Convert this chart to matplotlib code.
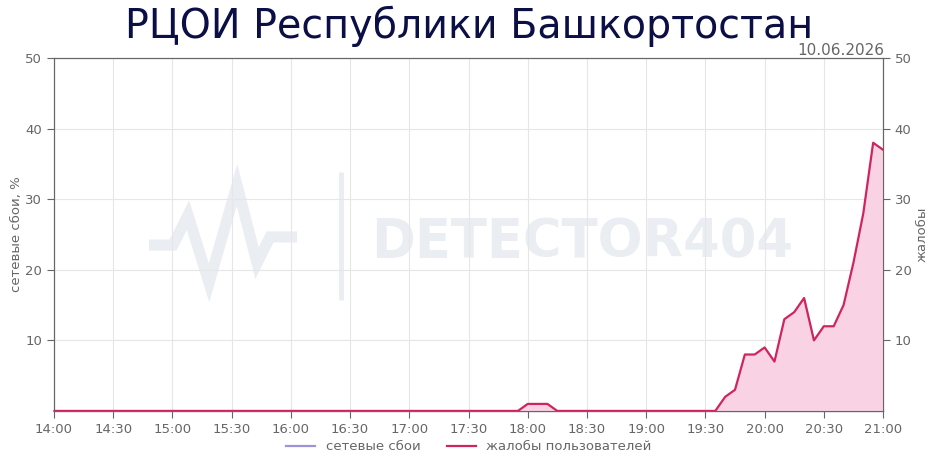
import numpy as np
import matplotlib.pyplot as plt
from datetime import datetime, timedelta

# data: 5-minute steps from 14:00 to 21:00
start = datetime(2026, 6, 10, 14, 0)
times = [start + timedelta(minutes=5 * i) for i in range(85)]

complaints = [0] * 85
# 18:00 .. 18:10
complaints[48:51] = [1, 1, 1]
# 19:35 .. 21:00
late = [0, 2, 3, 8, 8, 9, 7, 13, 14, 16, 10, 12, 12, 15, 21, 28, 38, 37]
complaints[67:85] = late
outages = [0] * 85

tick_labels = ["14:00", "14:30", "15:00", "15:30", "16:00", "16:30", "17:00", "17:30",
               "18:00", "18:30", "19:00", "19:30", "20:00", "20:30", "21:00"]

GRAY = "#666666"
LINE = "#d0245f"
FILL = "#f9d2e3"
PURPLE = "#9d93d8"
WM = "#eaedf1"

fig = plt.figure(figsize=(9.38, 4.69), dpi=100)
ax = fig.add_axes([0.0576, 0.1237, 0.8838, 0.7526])
ax2 = ax.twinx()

# watermark
ax.plot([0.1146, 0.1435, 0.1616, 0.187, 0.2207, 0.2449, 0.2606, 0.2931],
        [0.470, 0.470, 0.555, 0.363, 0.640, 0.419, 0.493, 0.493],
        transform=ax.transAxes, color=WM, lw=8, solid_joinstyle="miter",
        solid_capstyle="butt", zorder=0)
ax.plot([0.346, 0.346], [0.314, 0.677], transform=ax.transAxes, color=WM, lw=3.5,
        solid_capstyle="butt", zorder=0)
ax.text(0.382, 0.48, "DETECTOR404", transform=ax.transAxes, fontsize=38,
        fontweight="bold", color=WM, va="center", ha="left", zorder=0)

ax2.fill_between(times, complaints, 0, color=FILL, zorder=2)
ax2.plot(times, complaints, color=LINE, lw=1.6, zorder=3)
ax.plot(times, outages, color=PURPLE, lw=1.6, zorder=3, clip_on=False)

for a in (ax, ax2):
    a.set_ylim(0, 50)
    a.set_yticks([10, 20, 30, 40, 50])
    a.tick_params(colors=GRAY, labelsize=9.5, length=5)
    for s in a.spines.values():
        s.set_color(GRAY)
        s.set_linewidth(0.8)

ax.set_xlim(times[0], times[-1])
ax.set_xticks([start + timedelta(minutes=30 * i) for i in range(15)])
ax.set_xticklabels(tick_labels)
ax.grid(True, color="#e6e6e6", lw=0.8)
ax.set_axisbelow(True)

ax.set_ylabel("сетевые сбои, %", color=GRAY, fontsize=9.5, labelpad=2)
ax2.set_ylabel("жалобы", color=GRAY, fontsize=9.5, rotation=90, labelpad=3)

fig.text(0.5, 0.944, "РЦОИ Республики Башкортостан", ha="center", va="center",
         fontsize=28.5, color="#0b0f45")
fig.text(0.943, 0.892, "10.06.2026", ha="right", va="center", fontsize=11, color=GRAY)

h1, = ax.plot([], [], color=PURPLE, lw=1.6, label="сетевые сбои")
h2, = ax.plot([], [], color=LINE, lw=1.6, label="жалобы пользователей")
fig.legend(handles=[h1, h2], loc="lower center", bbox_to_anchor=(0.5, 0.008), ncol=2,
           frameon=False, fontsize=9.5, labelcolor=GRAY, handlelength=2.2, columnspacing=2)

fig.savefig("out.png", dpi=100)
